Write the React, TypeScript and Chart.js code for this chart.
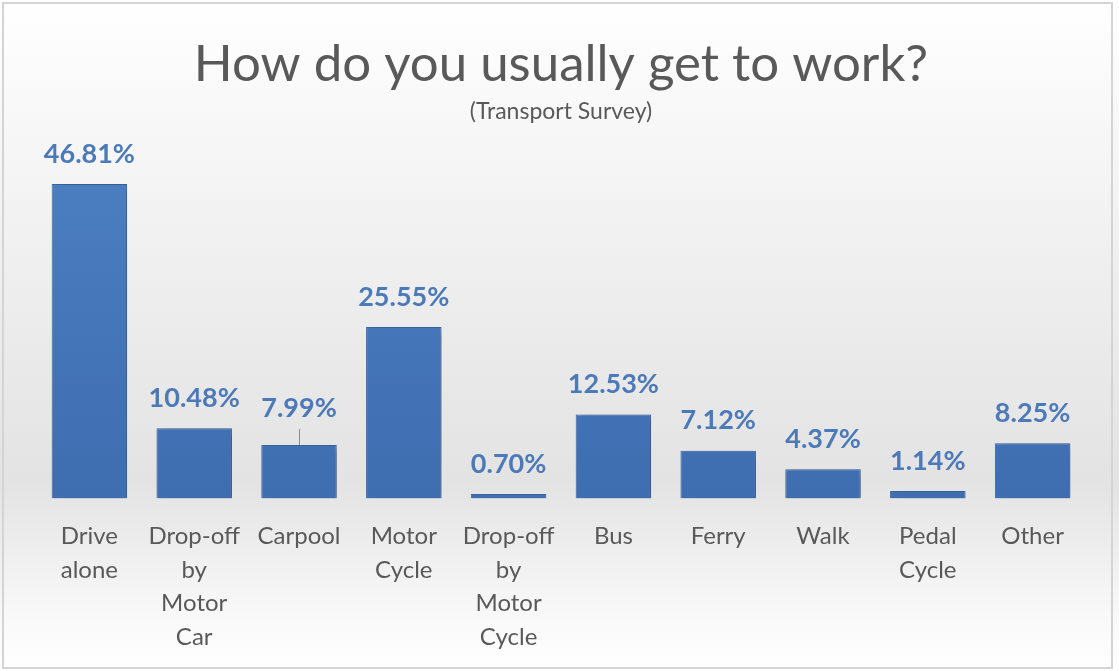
import React, { useEffect, useRef } from "react";
import { Chart, registerables } from "chart.js";

Chart.register(...registerables);

const categories: string[][] = [
  ["Drive", "alone"],
  ["Drop-off", "by", "Motor", "Car"],
  ["Carpool"],
  ["Motor", "Cycle"],
  ["Drop-off", "by", "Motor", "Cycle"],
  ["Bus"],
  ["Ferry"],
  ["Walk"],
  ["Pedal", "Cycle"],
  ["Other"],
];
const shares: number[] = [46.81, 10.48, 7.99, 25.55, 0.7, 12.53, 7.12, 4.37, 1.14, 8.25];
const titleText = "How do you usually get to work?";
const subtitleText = "(Transport Survey)";
const leaderIndex = 2;

const FONT = "Lato, 'Open Sans', sans-serif";

const backgroundPlugin = {
  id: "bgPanel",
  beforeDraw(chart: any) {
    const { ctx, width, height } = chart;
    ctx.save();
    const g = ctx.createLinearGradient(0, 0, 0, height);
    g.addColorStop(0, "#ffffff");
    g.addColorStop(0.12, "#fafafa");
    g.addColorStop(0.55, "#e9e9e9");
    g.addColorStop(0.72, "#e3e3e3");
    g.addColorStop(0.9, "#f7f7f7");
    g.addColorStop(1, "#ffffff");
    ctx.fillStyle = g;
    ctx.fillRect(0, 0, width, height);
    ctx.strokeStyle = "#d4d4d4";
    ctx.lineWidth = 2;
    ctx.strokeRect(3, 3, width - 10, height - 6);
    ctx.restore();
  },
};

const shadowPlugin = {
  id: "barShadow",
  beforeDatasetsDraw(chart: any) {
    const ctx = chart.ctx;
    ctx.save();
    ctx.shadowColor = "rgba(0,0,0,0.28)";
    ctx.shadowBlur = 9;
    ctx.shadowOffsetX = 5;
    ctx.shadowOffsetY = 2;
  },
  afterDatasetsDraw(chart: any) {
    chart.ctx.restore();
  },
};

const labelPlugin = {
  id: "valueLabels",
  afterDatasetsDraw(chart: any) {
    const { ctx } = chart;
    const meta = chart.getDatasetMeta(0);
    const data = chart.data.datasets[0].data as number[];
    ctx.save();
    ctx.font = `bold 27px ${FONT}`;
    ctx.fillStyle = "#4c79b8";
    ctx.textAlign = "center";
    ctx.textBaseline = "middle";
    meta.data.forEach((bar: any, i: number) => {
      const lifted = i === leaderIndex;
      const offset = lifted ? 37 : 30;
      ctx.fillText(data[i].toFixed(2) + "%", bar.x, bar.y - offset);
      if (lifted) {
        ctx.strokeStyle = "#8c8c8c";
        ctx.lineWidth = 1;
        ctx.beginPath();
        ctx.moveTo(bar.x + 0.5, bar.y - 16);
        ctx.lineTo(bar.x + 0.5, bar.y);
        ctx.stroke();
      }
    });
    ctx.restore();
  },
};

export default function App() {
  const canvasRef = useRef<HTMLCanvasElement | null>(null);

  useEffect(() => {
    document.body.style.margin = "0";
    const canvas = canvasRef.current;
    if (!canvas) return;
    const chart = new Chart(canvas, {
      type: "bar",
      data: {
        labels: categories,
        datasets: [
          {
            data: shares,
            backgroundColor: (c: any) => {
              const area = c.chart.chartArea;
              if (!area) return "#4677bc";
              const g = c.chart.ctx.createLinearGradient(0, area.top, 0, area.bottom);
              g.addColorStop(0, "#4b7dc1");
              g.addColorStop(1, "#3e6db0");
              return g;
            },
            borderColor: "#3a67a6",
            borderWidth: 1,
            barPercentage: 0.72,
            categoryPercentage: 1,
          },
        ],
      },
      options: {
        responsive: false,
        animation: false,
        layout: { padding: { left: 37, right: 34, top: 0, bottom: 4 } },
        plugins: {
          legend: { display: false },
          tooltip: { enabled: false },
          title: {
            display: true,
            text: titleText,
            color: "#595959",
            font: { family: FONT, size: 51, weight: "normal" },
            padding: { top: 34, bottom: 0 },
          },
          subtitle: {
            display: true,
            text: subtitleText,
            color: "#595959",
            font: { family: FONT, size: 23, weight: "normal" },
            padding: { top: 3, bottom: 57 },
          },
        },
        scales: {
          x: {
            grid: { display: false },
            border: { display: false },
            ticks: {
              color: "#595959",
              font: { family: FONT, size: 24, lineHeight: 1.4 },
              padding: 13,
              maxRotation: 0,
              autoSkip: false,
            },
          },
          y: {
            display: false,
            min: 0,
            max: 47,
          },
        },
      },
      plugins: [backgroundPlugin, shadowPlugin, labelPlugin],
    });
    return () => chart.destroy();
  }, []);

  return (
    <div style={{ width: 1119, height: 671 }}>
      <canvas ref={canvasRef} width={1119} height={671} style={{ display: "block" }} />
    </div>
  );
}
